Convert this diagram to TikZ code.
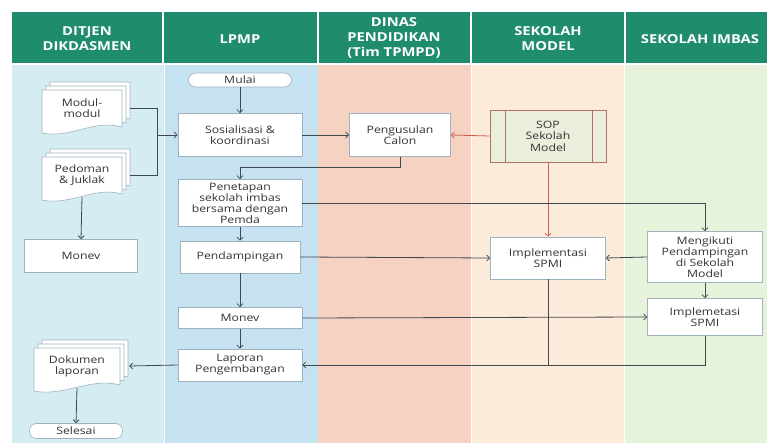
\documentclass[tikz,border=0pt]{standalone}
\usepackage{fontspec}
\setmainfont[FakeStretch=1.2]{Open Sans}
\usetikzlibrary{arrows.meta,calc}
\definecolor{hdr}{HTML}{1F8C6D}
\definecolor{cA}{HTML}{D6ECF3}
\definecolor{cB}{HTML}{C6E1EF}
\definecolor{cC}{HTML}{F6D2C3}
\definecolor{cD}{HTML}{FCEADA}
\definecolor{cE}{HTML}{E7F2DA}
\definecolor{lnk}{HTML}{3E4A50}
\definecolor{redl}{HTML}{CF5F55}
\definecolor{bord}{HTML}{9FB3BF}
\definecolor{txt}{HTML}{333333}
\definecolor{sopfill}{HTML}{E9EFDB}
\definecolor{sopbord}{HTML}{B07262}
\newcommand\docstack[5]{%
  \foreach \k in {2,1,0}{
    \draw[docpage,shift={(4*\k,-4*\k)}] (#2-#4,#3-18) -- (#2+#4,#3-18) -- (#2+#4,#3+19)
      .. controls (#2+#4*0.3,#3+11) and (#2-#4*0.3,#3+31) .. (#2-#4,#3+25) -- cycle;
  }
  \node[doctext,minimum width=2*#4,minimum height=44] (#1) at (#2,#3) {#5};
}
\begin{document}
\begin{tikzpicture}[x=1pt,y=-1pt,
  hdrtext/.style={text=white,font=\fontsize{12.3}{15}\selectfont\bfseries,align=center,inner sep=0},
  procbox/.style={draw=bord,fill=white,line width=0.6pt,text=txt,align=center,inner sep=0,
     font=\fontsize{10.2}{11}\selectfont},
  termbox/.style={procbox,rounded corners=7pt},
  sopbox/.style={draw=sopbord,fill=sopfill,line width=0.7pt,text=txt,align=center,inner sep=0,
     font=\fontsize{10.2}{11.5}\selectfont,minimum width=116,minimum height=52},
  sopline/.style={draw=sopbord,line width=0.7pt},
  docpage/.style={draw=bord,fill=white,line width=0.6pt},
  doctext/.style={text=txt,align=center,inner sep=0,font=\fontsize{10.2}{11}\selectfont},
  conn/.style={draw=lnk,line width=0.8pt},
  arr/.style={conn,-{Straight Barb[length=3pt,width=6pt]}},
  rarr/.style={draw=redl,line width=0.8pt,-{Straight Barb[length=3pt,width=6pt]}}
]
\useasboundingbox (0,0) rectangle (767,443);
% header
\fill[hdr] (12,12) rectangle (767,63);
\foreach \xx in {163,318,471,625}{\draw[white,line width=1.4pt] (\xx,12) -- (\xx,63);}
% body columns
\fill[cA] (12,65) rectangle (164,443);
\fill[cB] (165,65) rectangle (318,443);
\fill[cC] (318,65) rectangle (471,443);
\fill[cD] (472,65) rectangle (624,443);
\fill[cE] (625,65) rectangle (767,443);
% header texts
\node[hdrtext] (h1) at (87,39) {DITJEN\\DIKDASMEN};
\node[hdrtext] (h2) at (240,39) {LPMP};
\node[hdrtext] (h3) at (394,38.5) {DINAS\\PENDIDIKAN\\(Tim TPMPD)};
\node[hdrtext] (h4) at (548,39) {SEKOLAH\\MODEL};
\node[hdrtext] (h5) at (700,39) {SEKOLAH IMBAS};
% nodes
\node[termbox,minimum width=103,minimum height=14] (mulai) at (240,80) {Mulai};
\node[procbox,minimum width=124,minimum height=43] (sos) at (240,135) {Sosialisasi \&\\koordinasi};
\node[procbox,minimum width=101,minimum height=43] (pen) at (400,135) {Pengusulan\\Calon};
\node[sopbox] (sop) at (548,136) {SOP\\Sekolah\\Model};
\draw[sopline] ([xshift=16]sop.north west) -- ([xshift=16]sop.south west);
\draw[sopline] ([xshift=-14]sop.north east) -- ([xshift=-14]sop.south east);
\node[procbox,minimum width=124,minimum height=47] (pet) at (240,203) {Penetapan\\sekolah imbas\\bersama dengan\\Pemda};
\node[procbox,minimum width=113,minimum height=33] (mon1) at (81,256) {Monev};
\node[procbox,minimum width=120,minimum height=32] (pend) at (240,257) {Pendampingan};
\node[procbox,minimum width=115,minimum height=42] (impl) at (548,258) {Implementasi\\SPMI};
\node[procbox,minimum width=115,minimum height=51] (ikut) at (705,257) {Mengikuti\\Pendampingan\\di Sekolah\\Model};
\node[procbox,minimum width=115,minimum height=37] (imp2) at (705,317) {Implemetasi\\SPMI};
\node[procbox,minimum width=124,minimum height=21] (mon2) at (240,318) {Monev};
\node[procbox,minimum width=124,minimum height=32] (lap) at (240,365) {Laporan\\Pengembangan};
\node[termbox,minimum width=93,minimum height=15] (selesai) at (76,431) {Selesai};
\docstack{modul}{82}{108}{40}{Modul-\\modul}
\docstack{pedoman}{82}{175}{40}{Pedoman\\\& Juklak}
\docstack{dok}{77}{366}{43}{Dokumen\\laporan}
% connectors
\coordinate (br) at (157,135);
\draw[conn] ([xshift=8]modul.east) -| (br);
\draw[conn] ([xshift=8]pedoman.east) -| (br);
\draw[arr] (br) -- (sos.west);
\draw[arr] (mulai.south) -- (sos.north);
\draw[arr] (sos.east) -- (pen.west);
\draw[rarr] (sop.west) -- (pen.east);
\draw[rarr] (sop.south) -- (impl.north);
\draw[arr] (pen.south) -- ++(0,11) -| (pet.north);
\draw[arr] (pet.east) -| (ikut.north);
\draw[arr] (pet.south) -- (pend.north);
\draw[arr] (pedoman.south) -- (mon1.north);
\draw[arr] (pend.south) -- (mon2.north);
\draw[arr] (pend.east) -- (impl.west);
\draw[arr] (ikut.west) -- (impl.east);
\draw[arr] (ikut.south) -- (imp2.north);
\draw[arr] (mon2.east) -- (imp2.west);
\draw[arr] (mon2.south) -- (lap.north);
\coordinate (jn) at (impl.south |- lap.east);
\draw[conn] (imp2.south) |- (jn);
\draw[arr] (impl.south) -- (jn) -- (lap.east);
\draw[arr] (lap.west) -- ([xshift=9]dok.east);
\draw[arr] (dok.south) -- (selesai.north);
\end{tikzpicture}
\end{document}
